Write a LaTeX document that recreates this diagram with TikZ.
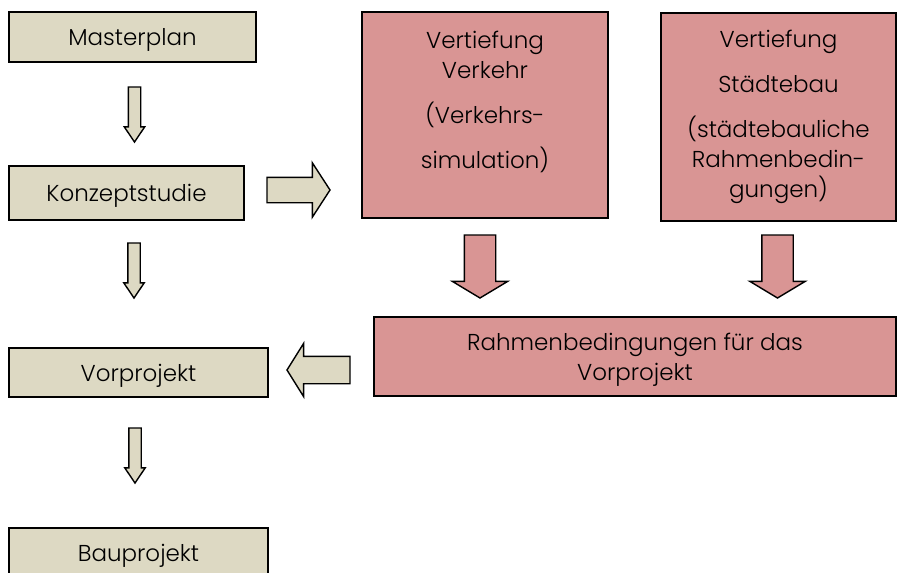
\documentclass[tikz,border=0pt]{standalone}
\usepackage{fontspec}
\setmainfont{Poppins}[UprightFont=* Light]
\usetikzlibrary{shapes.arrows}
\definecolor{stagefill}{HTML}{DDD9C3}
\definecolor{studyfill}{HTML}{D99594}
\begin{document}
\begin{tikzpicture}[x=1pt,y=1pt,inner sep=0pt,outer sep=0pt,line width=1.4pt,
font=\fontsize{23}{30}\selectfont,
stage/.style={draw,fill=stagefill,rectangle,align=center,text height=17pt,text depth=-2pt},
study/.style={draw,fill=studyfill,rectangle,align=center},
blockarrow/.style={draw,single arrow,single arrow head indent=0pt,anchor=tail},
smalldown/.style={blockarrow,fill=stagefill,shape border rotate=270,minimum height=55pt,inner sep=5.5pt,single arrow head extend=4pt,single arrow tip angle=68},
bigdown/.style={blockarrow,fill=studyfill,shape border rotate=270,minimum height=63pt,inner sep=15pt,single arrow head extend=12pt,single arrow tip angle=118}]

\useasboundingbox (0,0) rectangle (897,-573);

\draw (132.5,-37) node[stage,minimum width=247pt,minimum height=50pt] (master) {Masterplan};
\draw (126.5,-193) node[stage,minimum width=235pt,minimum height=54pt] (konzept) {Konzeptstudie};
\draw (138.5,-372.5) node[stage,minimum width=259pt,minimum height=49pt] (vorprojekt) {Vorprojekt};
\draw (138.5,-553) node[stage,minimum width=259pt,minimum height=50pt] (bauprojekt) {Bauprojekt};

\draw (485,-115) node[study,minimum width=246pt,minimum height=206pt] (verkehr) {Vertiefung\\Verkehr\\[15pt](Verkehrs-\\[15pt]simulation)\\\mbox{}};
\draw (778.5,-117) node[study,minimum width=235pt,minimum height=208pt] (staedtebau) {Vertiefung\\[15pt]Städtebau\\[15pt](städtebauliche\\Rahmenbedin-\\gungen)};
\draw (635,-356.5) node[study,minimum width=522pt,minimum height=79pt,text depth=-4pt] (rahmen) {Rahmenbedingungen für das\\Vorprojekt};

\draw (134.5,-87) node[smalldown] (masterkonzept) {};
\draw (134,-243) node[smalldown] (konzeptvor) {};
\draw (135,-428) node[smalldown] (vorbau) {};
\draw (267,-190) node[blockarrow,fill=stagefill,minimum height=63pt,inner sep=12pt,single arrow head extend=14.5pt,single arrow tip angle=114] (konzeptstudie) {};
\draw (480,-235) node[bigdown] (verkehrrahmen) {};
\draw (777.5,-235) node[bigdown] (staedterahmen) {};
\draw (350,-370) node[blockarrow,fill=stagefill,shape border rotate=180,minimum height=63pt,inner sep=13pt,single arrow head extend=13pt,single arrow tip angle=116] (rahmenvor) {};

\end{tikzpicture}
\end{document}
